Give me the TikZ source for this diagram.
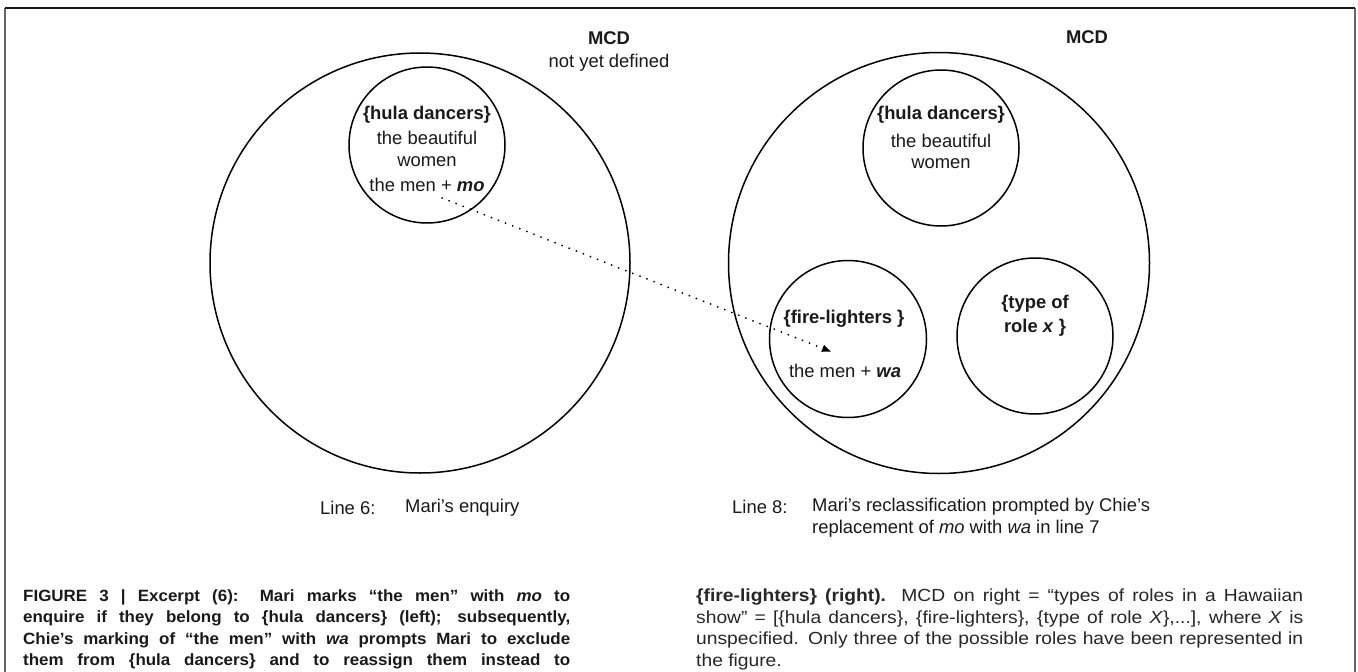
\documentclass[tikz,border=0pt]{standalone}
\usepackage{fontspec}
\setmainfont{Liberation Sans}
\newfontfamily\capfontL{Liberation Sans}[FakeStretch=1.04]
\newfontfamily\capfontR{Liberation Sans}[FakeStretch=1.1]
\usetikzlibrary{arrows.meta}
\begin{document}
\begin{tikzpicture}[x=1pt,y=-1pt,
  ring/.style={draw=black, line width=1.5pt, circle, minimum size=#1, inner sep=0pt},
  lbl/.style={font=\fontsize{18.4}{23}\selectfont, inner sep=0pt, text=black!90},
  blbl/.style={lbl, font=\fontsize{18.4}{23}\selectfont\bfseries},
  capL/.style={font=\capfontL\fontsize{16.3}{21}\selectfont\bfseries, inner sep=0pt, anchor=west, text=black!90},
  capR/.style={font=\capfontR\fontsize{17.5}{21}\selectfont, inner sep=0pt, anchor=west, text=black!85},
  dotarrow/.style={line width=2pt, line cap=round, dash pattern=on 0pt off 7.6pt, -{Latex[length=10pt,width=8pt]}}
]
\useasboundingbox (0,0) rectangle (1358,672);
% frame
\draw[line width=1.5pt, black!60] (5,672) -- (5,8);
\draw[line width=1.5pt, black!60] (1355,8) -- (1355,672);
\draw[line width=1.5pt, black!90] (5,8) -- (1355,8);

% left MCD
\node[ring=420pt] (Lout) at (420,263) {};
\node[ring=156pt] (Lhula) at (427,145) {};
\node[blbl] (LmcdT) at (609,38) {MCD};
\node[lbl] (LmcdS) at (609,63) {not yet defined};
\node[blbl] (Lh1) at (427,115) {\{hula dancers\}};
\node[lbl] (Lh2) at (427,138) {the beautiful};
\node[lbl] (Lh3) at (427,162) {women};
\node[lbl] (Lh4) at (427,185) {the men + \textbf{\textit{mo}}};

% right MCD
\node[ring=421pt] (Rout) at (939,263) {};
\node[ring=156pt] (Rhula) at (941,148) {};
\node[ring=157pt] (Rfire) at (848,339) {};
\node[ring=156pt] (Rrole) at (1035,336) {};
\node[blbl] (RmcdT) at (1087,37) {MCD};
\node[blbl] (Rh1) at (941,115) {\{hula dancers\}};
\node[lbl] (Rh2) at (941,141) {the beautiful};
\node[lbl] (Rh3) at (941,164) {women};
\node[blbl] (Rf1) at (844,319) {\{fire-lighters \}};
\node[lbl] (Rf2) at (845,371) {the men + \textbf{\textit{wa}}};
\node[blbl] (Rr1) at (1035,304) {\{type of};
\node[blbl] (Rr2) at (1035,328) {role \textit{x} \}};

% dotted arrow
\coordinate (ms) at (442,198);
\coordinate (me) at (832,352);
\draw[dotarrow] (ms) -- (me);

% line labels
\node[lbl, anchor=west] (l6a) at (320,508) {Line 6:};
\node[lbl, anchor=west] (l6b) at (405,508) {Mari’s enquiry};
\node[lbl, anchor=west] (l8a) at (732,507) {Line 8:};
\node[lbl, anchor=west] (l8b) at (812,507) {Mari’s reclassification prompted by Chie’s};
\node[lbl, anchor=west] (l8c) at (812,529) {replacement of \textit{mo} with \textit{wa} in line 7};

% caption left
\node[capL] (cl1) at (23,597) {\makebox[547pt][s]{FIGURE 3 | Excerpt (6): Mari marks “the men” with \textit{mo} to}};
\node[capL] (cl2) at (23,618.5) {\makebox[547pt][s]{enquire if they belong to \{hula dancers\} (left); subsequently,}};
\node[capL] (cl3) at (23,640) {\makebox[547pt][s]{Chie’s marking of “the men” with \textit{wa} prompts Mari to exclude}};
\node[capL] (cl4) at (23,661.5) {\makebox[547pt][s]{them from \{hula dancers\} and to reassign them instead to}};
% caption right
\node[capR] (cr1) at (696,597) {\makebox[607pt][s]{\textbf{\{fire-lighters\} (right).} MCD on right = “types of roles in a Hawaiian}};
\node[capR] (cr2) at (696,618.5) {\makebox[607pt][s]{show” = [\{hula dancers\}, \{fire-lighters\}, \{type of role \textit{X}\},...], where \textit{X} is}};
\node[capR] (cr3) at (696,640) {\makebox[607pt][s]{unspecified. Only three of the possible roles have been represented in}};
\node[capR] (cr4) at (696,661.5) {the figure.};
\end{tikzpicture}
\end{document}
